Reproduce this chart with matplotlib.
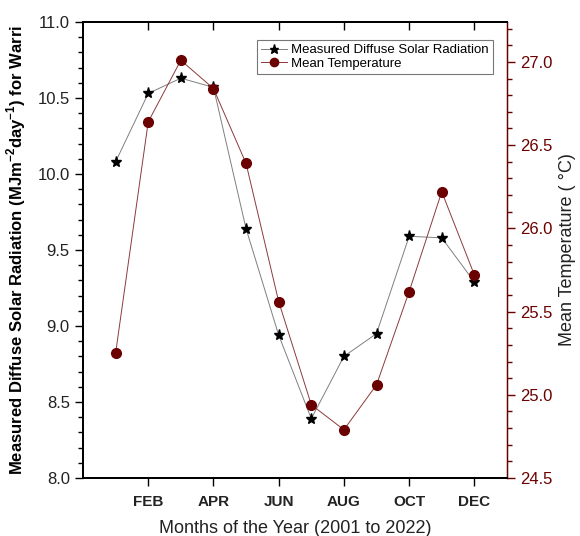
import matplotlib
matplotlib.use("Agg")
import matplotlib.pyplot as plt
from matplotlib.ticker import MultipleLocator

plt.rcParams['font.family'] = ['Liberation Sans', 'DejaVu Sans']
plt.rcParams['mathtext.fontset'] = 'custom'
plt.rcParams['mathtext.rm'] = 'Liberation Sans'
plt.rcParams['mathtext.bf'] = 'Liberation Sans:bold'

months = [1, 2, 3, 4, 5, 6, 7, 8, 9, 10, 11, 12]
radiation = [10.08, 10.53, 10.63, 10.57, 9.64, 8.94, 8.39, 8.80, 8.95, 9.59, 9.58, 9.29]
temperature = [25.25, 26.64, 27.01, 26.84, 26.39, 25.56, 24.94, 24.79, 25.06, 25.62, 26.22, 25.72]
tick_pos = [2, 4, 6, 8, 10, 12]
tick_labels = ['FEB', 'APR', 'JUN', 'AUG', 'OCT', 'DEC']

red = '#6b0000'

fig = plt.figure(figsize=(5.8, 5.36), dpi=100)
ax = fig.add_axes([0.1431, 0.1082, 0.8741 - 0.1431, 0.959 - 0.1082])
ax2 = ax.twinx()

l1, = ax.plot(months, radiation, color='#7f7f7f', lw=0.7, marker='*', ms=8,
              mfc='black', mec='black', label='Measured Diffuse Solar Radiation', zorder=3)
l2, = ax2.plot(months, temperature, color='#8b3a3a', lw=0.7, marker='o', ms=7,
               mfc=red, mec=red, label='Mean Temperature', zorder=3)

ax.set_xlim(0, 13)
ax.set_ylim(8.0, 11.0)
ax2.set_ylim(24.5, 27.24)

ax.set_xticks(tick_pos)
ax.set_xticklabels(tick_labels, fontweight='bold', fontsize=11)
ax.yaxis.set_minor_locator(MultipleLocator(0.1))
ax.set_yticks([8.0, 8.5, 9.0, 9.5, 10.0, 10.5, 11.0])
ax.set_yticklabels(['8.0', '8.5', '9.0', '9.5', '10.0', '10.5', '11.0'], fontsize=12)
ax.tick_params(axis='y', which='major', direction='out', length=6, width=1,
               labelsize=12, labelcolor='#222222')
ax.tick_params(axis='y', which='minor', direction='out', length=3.5, width=1)
ax.tick_params(axis='x', which='major', direction='out', length=6, width=1, top=True, pad=6,
               labelcolor='#222222')
ax.xaxis.set_ticks_position('both')
for t in ax.xaxis.get_major_ticks():
    t.tick2line.set_marker(3)
    t.tick2line.set_markersize(6)

ax2.yaxis.set_minor_locator(MultipleLocator(0.1))
ax2.set_yticks([24.5, 25.0, 25.5, 26.0, 26.5, 27.0])
ax2.set_yticklabels(['24.5', '25.0', '25.5', '26.0', '26.5', '27.0'])
ax2.tick_params(axis='y', which='major', direction='out', length=6, width=1,
                colors=red, labelsize=12, labelcolor=red)
ax2.tick_params(axis='y', which='minor', direction='out', length=3.5, width=1, colors=red)
ax2.spines['right'].set_color(red)

for sp in ['left', 'top', 'bottom']:
    ax.spines[sp].set_linewidth(1.4)
    ax2.spines[sp].set_linewidth(1.4)
ax2.spines['right'].set_linewidth(1.0)

ax.set_xlabel('Months of the Year (2001 to 2022)', fontsize=13, labelpad=8, color='#222222')
ax.set_ylabel(r'Measured Diffuse Solar Radiation (MJm$^{\mathbf{-2}}$day$^{\mathbf{-1}}$) for Warri',
              fontsize=12, fontweight='bold', labelpad=7)
ax2.set_ylabel('Mean Temperature ( °C)', fontsize=13, labelpad=5, color='#222222')

leg = ax.legend(handles=[l1, l2], loc='upper left', bbox_to_anchor=(0.41, 0.96),
                fontsize=9.5, frameon=True, fancybox=False, borderpad=0.3,
                handlelength=2.0, handletextpad=0.3, labelspacing=0.1, borderaxespad=0,
                markerscale=0.85)
leg.get_frame().set_edgecolor('#555555')
leg.get_frame().set_linewidth(0.8)
leg.set_zorder(5)

fig.savefig('out.png', dpi=100)
